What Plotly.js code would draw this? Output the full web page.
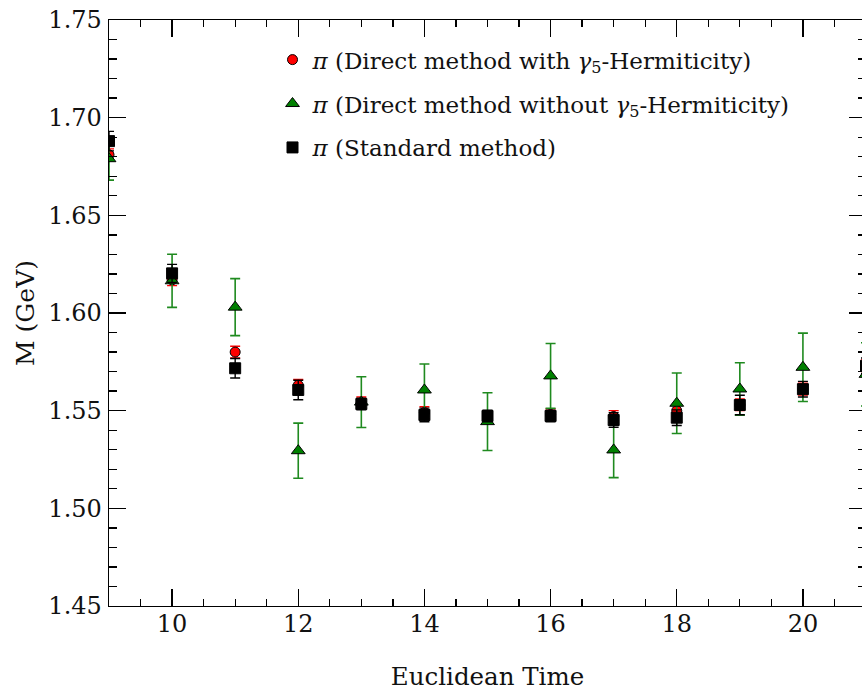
<!DOCTYPE html>
<html>
<head>
<meta charset="utf-8">
<script src="https://cdn.plot.ly/plotly-3.0.1.min.js"></script>
<style>
html,body{margin:0;padding:0;overflow:hidden;background:#fff;}
#chart{width:870px;height:693px;}
</style>
</head>
<body>
<div id="chart"></div>
<script>
// Euclidean time slices
const times = [9, 10, 11, 12, 13, 14, 15, 16, 17, 18, 19, 20, 21];

// pi, direct method with gamma5-hermiticity (red circles)
const directWith = [1.681, 1.617, 1.580, 1.563, 1.554, 1.549, 1.547, 1.548, 1.547, 1.550, 1.553, 1.561, 1.573];
const directWithErr = [0.003, 0.003, 0.003, 0.003, 0.003, 0.003, 0.003, 0.003, 0.003, 0.003, 0.003, 0.003, 0.003];

// pi, direct method without gamma5-hermiticity (green triangles)
const directWithout = [1.679, 1.6165, 1.603, 1.5295, 1.5544, 1.5606, 1.5444, 1.5678, 1.5299, 1.5538, 1.5611, 1.5722, 1.5686];
const directWithoutErr = [0.011, 0.0136, 0.0146, 0.0141, 0.013, 0.0133, 0.0148, 0.0166, 0.0142, 0.0155, 0.0134, 0.0175, 0.0162];

// pi, standard method (black squares)
const standard = [1.688, 1.6203, 1.5717, 1.5606, 1.5534, 1.5478, 1.5473, 1.5473, 1.5452, 1.5464, 1.5529, 1.5610, 1.573];
const standardErr = [0.005, 0.0046, 0.005, 0.005, 0.003, 0.0035, 0.003, 0.003, 0.0037, 0.004, 0.005, 0.004, 0.004];

const FONT = 'DejaVu Serif';

const traces = [
  {
    x: times, y: directWith, type: 'scatter', mode: 'markers',
    name: '<i>π</i> (Direct method with <i>γ</i><sub>5</sub>-Hermiticity)',
    legendgroup: 'a',
    marker: {symbol: 'circle', size: 10, color: 'red', line: {color: 'black', width: 1}},
    error_y: {type: 'data', array: directWithErr, visible: true, color: 'red', thickness: 1.4, width: 5}
  },
  {
    x: times, y: directWithout, type: 'scatter', mode: 'markers',
    name: '<i>π</i> (Direct method without <i>γ</i><sub>5</sub>-Hermiticity)',
    legendgroup: 'b',
    marker: {symbol: 'triangle-up', size: 12, color: 'green', line: {color: 'black', width: 1}},
    error_y: {type: 'data', array: directWithoutErr, visible: true, color: '#1f8a1f', thickness: 1.6, width: 5}
  },
  {
    x: times, y: standard, type: 'scatter', mode: 'markers',
    name: '<i>π</i> (Standard method)',
    legendgroup: 'c',
    marker: {symbol: 'square', size: 11, color: 'black', line: {color: 'black', width: 1}},
    error_y: {type: 'data', array: standardErr, visible: true, color: 'black', thickness: 1.4, width: 5}
  }
];

const axisCommon = {
  showline: true, linecolor: 'black', linewidth: 1.4,
  mirror: 'allticks', ticks: 'inside', tickcolor: 'black', tickwidth: 1.3,
  showgrid: false, zeroline: false,
  tickfont: {family: FONT, size: 24, color: '#111'}
};

const layout = {
  width: 870, height: 693,
  margin: {l: 108.6, r: 4, t: 20, b: 87},
  paper_bgcolor: 'white', plot_bgcolor: 'white',
  font: {family: FONT, color: '#111'},
  showlegend: true,
  legend: {
    x: 0.216, y: 0.969, xanchor: 'left', yanchor: 'top',
    bgcolor: 'rgba(0,0,0,0)', borderwidth: 0,
    font: {family: FONT, size: 23, color: '#111'},
    tracegroupgap: 11, traceorder: 'grouped'
  },
  xaxis: Object.assign({}, axisCommon, {
    range: [9, 21], tickmode: 'linear', tick0: 0, dtick: 2, ticklen: 17,
    ticklabelstandoff: -4,
    minor: {dtick: 0.5, tick0: 0, ticklen: 7, ticks: 'inside', tickcolor: 'black', tickwidth: 1.3},
    title: {text: 'Euclidean Time', font: {family: FONT, size: 24.5, color: '#111'}, standoff: 30}
  }),
  yaxis: Object.assign({}, axisCommon, {
    range: [1.45, 1.75], tickmode: 'linear', tick0: 1.45, dtick: 0.05, ticklen: 17,
    tickformat: '.2f', ticklabelstandoff: 1,
    minor: {dtick: 0.01, tick0: 1.45, ticklen: 8, ticks: 'inside', tickcolor: 'black', tickwidth: 1.3},
    title: {text: 'M (GeV)', font: {family: FONT, size: 25, color: '#111'}, standoff: 6}
  })
};

Plotly.newPlot('chart', traces, layout, {displayModeBar: false, staticPlot: true});
</script>
</body>
</html>
